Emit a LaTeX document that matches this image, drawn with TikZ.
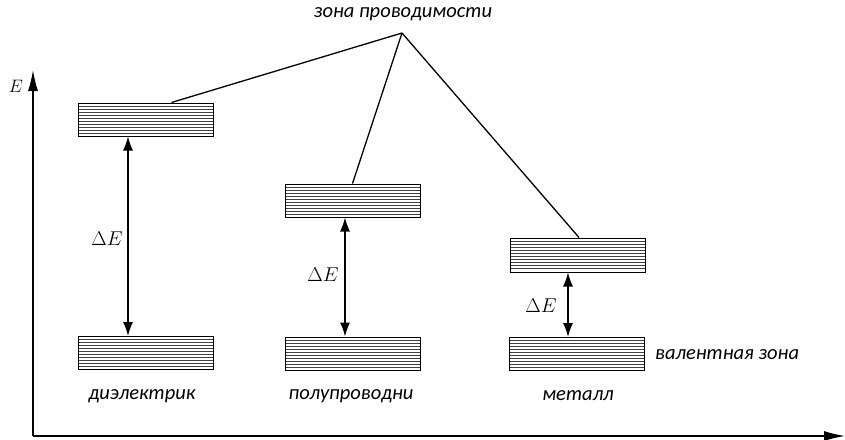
\RequirePackage{fix-cm}
\documentclass[tikz,border=0pt]{standalone}
\usepackage{fontspec}
\setmainfont{Carlito}
\usetikzlibrary{arrows.meta,calc}
\tikzset{
  band/.style={draw, line width=1pt, minimum width=135pt, minimum height=33pt, inner sep=0pt,
    path picture={
      \foreach \i in {1,...,10}{
        \draw[line width=0.9pt, black!75] ([yshift=-\i*3pt]path picture bounding box.north west) -- ([yshift=-\i*3pt]path picture bounding box.north east);
      }
    }},
  lbl/.style={font=\fontsize{20.5}{23}\selectfont\itshape, inner sep=0pt},
  gap/.style={font=\fontsize{20}{22}\selectfont, inner sep=0pt},
  dbl/.style={line width=1.3pt, {Latex[length=14pt,width=10pt]}-{Latex[length=14pt,width=10pt]}},
  conn/.style={line width=1.3pt},
  axis/.style={line width=1.3pt, -{Latex[length=21pt,width=10pt]}}
}
\begin{document}
\begin{tikzpicture}[x=1pt,y=-1pt]
\useasboundingbox (0,0) rectangle (845,439);
% axes
\coordinate (o) at (33,436);
\coordinate (ytop) at (33,70);
\coordinate (xend) at (845,436);
\draw[axis] (o) -- (ytop);
\draw[axis] (o) -- (xend);
\node[gap, font=\fontsize{18}{20}\selectfont] (elab) at (16,86) {$E$};
% bands
\node[band] (d1) at (145.5,119.5) {};
\node[band] (d0) at (145.5,353) {};
\node[band] (s1) at (352.5,200.5) {};
\node[band] (s0) at (353,353.5) {};
\node[band, minimum height=34pt] (m1) at (578,255) {};
\node[band] (m0) at (577,354) {};
% conduction band label
\coordinate (apex) at (402,33);
\node[lbl] (cb) at (403,14) {зона проводимости};
\draw[conn] (apex) -- ([xshift=26pt]d1.north);
\draw[conn] (apex) -- ([xshift=0pt]s1.north);
\draw[conn] (apex) -- ([xshift=1pt]m1.north);
% gaps
\draw[dbl] ([xshift=-17.5pt]d1.south) -- ([xshift=-17.5pt]d0.north);
\draw[dbl] ([xshift=-7.5pt]s1.south) -- ([xshift=-8pt]s0.north);
\draw[dbl] ([xshift=-10pt]m1.south) -- ([xshift=-9pt]m0.north);
\node[gap] (g1) at (107,239) {$\Delta E$};
\node[gap] (g2) at (323,275) {$\Delta E$};
\node[gap] (g3) at (541,306) {$\Delta E$};
% labels
\node[lbl] (ld) at (142,396) {диэлектрик};
\node[lbl] (ls) at (351,396) {полупроводни};
\node[lbl] (lm) at (578,396) {металл};
\node[lbl, anchor=west] (lv) at (655,355) {валентная зона};
\end{tikzpicture}
\end{document}
